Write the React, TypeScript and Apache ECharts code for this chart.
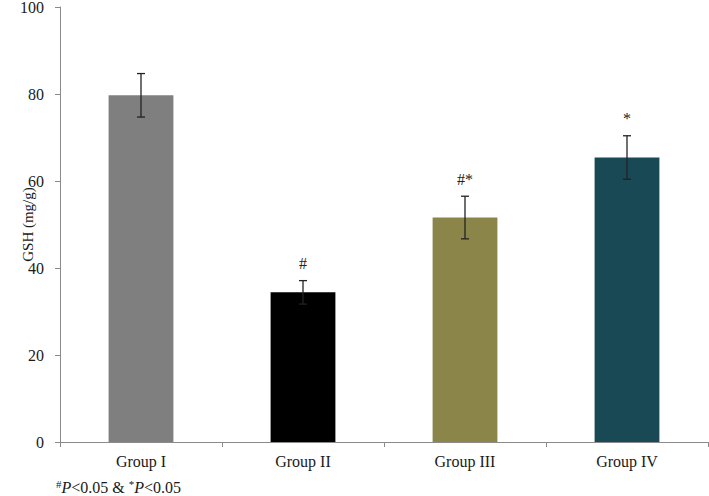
import React, { useEffect, useRef } from "react";
import * as echarts from "echarts";

const categories = ["Group I", "Group II", "Group III", "Group IV"];
const gshMeans = [79.7, 34.4, 51.6, 65.4];
const gshErrors = [5.0, 2.7, 4.9, 5.0];
const significance = ["", "#", "#*", "*"];
const barColors = ["#7f7f7f", "#000000", "#8c8549", "#1a4956"];
const yTicks = { min: 0, max: 100, interval: 20 };

const FONT = "Liberation Serif";

export default function App() {
  const ref = useRef<HTMLDivElement>(null);
  useEffect(() => {
    if (!ref.current) return;
    const chart = echarts.init(ref.current, undefined, { renderer: "svg" });
    const errData = categories.map((c, i) => [i, gshMeans[i] - gshErrors[i], gshMeans[i] + gshErrors[i], i]);
    chart.setOption({
      animation: false,
      grid: { left: 60, right: 1, top: 7, bottom: 54, outerBoundsMode: "none", containLabel: false },
      xAxis: {
        type: "category",
        data: categories,
        axisLine: { lineStyle: { color: "#8a8a8a", width: 1 } },
        axisTick: { show: true, length: 5, lineStyle: { color: "#8a8a8a" } },
        axisLabel: { color: "#1a1a1a", fontFamily: FONT, fontSize: 16, margin: 11 },
      },
      yAxis: {
        type: "value",
        min: yTicks.min,
        max: yTicks.max,
        interval: yTicks.interval,
        name: "GSH (mg/g)",
        nameLocation: "middle",
        nameGap: 25,
        nameMoveOverlap: false,
        nameTextStyle: { color: "#1a1a1a", fontFamily: FONT, fontSize: 15 },
        axisLine: { show: true, lineStyle: { color: "#8a8a8a", width: 1 } },
        axisTick: { show: true, length: 5, lineStyle: { color: "#8a8a8a" } },
        splitLine: { show: false },
        axisLabel: { color: "#1a1a1a", fontFamily: FONT, fontSize: 16, margin: 16 },
      },
      series: [
        {
          type: "bar",
          data: gshMeans.map((v, i) => ({ value: v, itemStyle: { color: barColors[i] } })),
          barWidth: "40%",
        },
        {
          type: "custom",
          data: errData,
          z: 10,
          renderItem: (params: any, api: any) => {
            const x = api.value(0);
            const lo = api.coord([x, api.value(1)]);
            const hi = api.coord([x, api.value(2)]);
            const idx = api.value(3);
            const cap = 4;
            const style = { stroke: "#222222", lineWidth: 1.3 };
            const children: any[] = [
              { type: "line", shape: { x1: lo[0], y1: lo[1], x2: hi[0], y2: hi[1] }, style },
              { type: "line", shape: { x1: hi[0] - cap, y1: hi[1], x2: hi[0] + cap, y2: hi[1] }, style },
              { type: "line", shape: { x1: lo[0] - cap, y1: lo[1], x2: lo[0] + cap, y2: lo[1] }, style },
            ];
            const sig = significance[idx];
            if (sig) {
              children.push({
                type: "text",
                x: hi[0],
                y: hi[1] - 9,
                style: {
                  text: sig,
                  fill: "#222222",
                  font: `16px "${FONT}"`,
                  align: "center",
                  verticalAlign: "bottom",
                },
              });
            }
            return { type: "group", children };
          },
        },
      ],
      graphic: [
        {
          type: "text",
          left: 56,
          top: 478,
          style: {
            text: "{sup|#}{it|P}{n|<0.05 & }{sup|*}{it|P}{n|<0.05}",
            rich: {
              sup: { fontSize: 11, fontFamily: FONT, fill: "#1a1a1a", verticalAlign: "top", lineHeight: 18 },
              it: { fontSize: 16, fontStyle: "italic", fontFamily: FONT, fill: "#1a1a1a", lineHeight: 18 },
              n: { fontSize: 16, fontFamily: FONT, fill: "#1a1a1a", lineHeight: 18 },
            },
          },
        },
      ],
    });
    return () => chart.dispose();
  }, []);
  return <div ref={ref} style={{ width: 709, height: 496, position: "absolute", left: 0, top: 0, background: "#fff" }} />;
}
